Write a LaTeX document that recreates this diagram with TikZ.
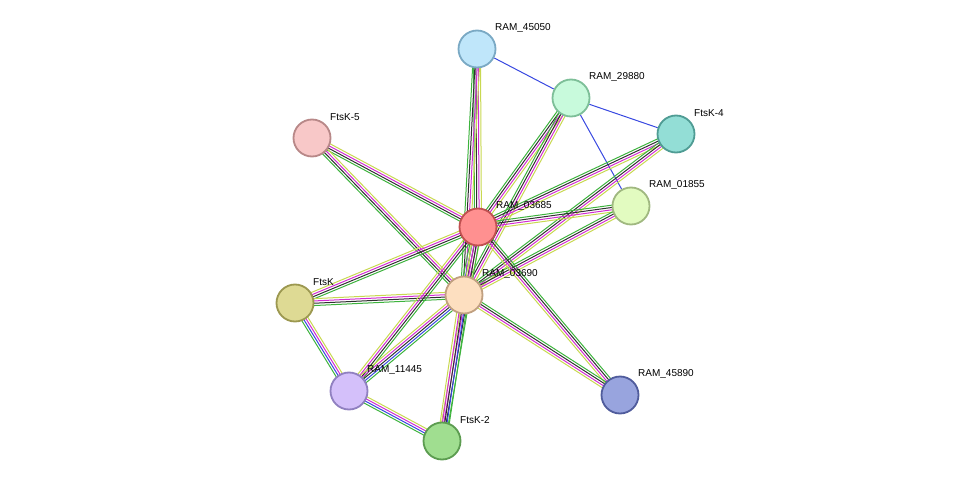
\documentclass[tikz,border=0pt]{standalone}
\usepackage{fontspec}
\setmainfont{Liberation Sans}
\usetikzlibrary{calc,backgrounds}
\definecolor{eg}{HTML}{3DB33D}
\definecolor{em}{HTML}{D22CD2}
\definecolor{ey}{HTML}{C8D850}
\definecolor{eb}{HTML}{3848E0}
\definecolor{ek}{HTML}{303030}
\tikzset{
 prot/.style={circle,minimum size=37pt,inner sep=0pt,line width=1.8pt},
 lab/.style={anchor=west,font=\fontsize{10}{12}\selectfont,inner sep=0pt},
}
\newcommand\medge[4]{%
 \foreach \c [count=\i] in {#4}{%
  \pgfmathsetmacro\off{(\i-(#3+1)/2)*2.3}%
  \draw[\c,line width=1pt] ($(#1)!\off pt!90:(#2)$) -- ($(#2)!\off pt!-90:(#1)$);
 }}
\begin{document}
\begin{tikzpicture}[x=1pt,y=-1pt]
\useasboundingbox (0,0) rectangle (975,487);
\newcommand\prot[5]{%
 \node[prot,fill=#4,draw=#5] (#1) at (#2,#3) {};
 \node[lab] (#1-l) at (#2+18,#3-21) {\detokenize{#1}};}
\prot{RAM_45050}{477}{49}{{rgb,255:red,191;green,230;blue,250}}{{rgb,255:red,122;green,169;blue,196}}
\prot{RAM_29880}{571}{98}{{rgb,255:red,200;green,250;blue,220}}{{rgb,255:red,125;green,191;blue,152}}
\prot{FtsK-4}{676}{134}{{rgb,255:red,147;green,222;blue,214}}{{rgb,255:red,79;green,156;blue,148}}
\prot{FtsK-5}{312}{138}{{rgb,255:red,248;green,200;blue,200}}{{rgb,255:red,184;green,136;blue,136}}
\prot{RAM_01855}{631}{206}{{rgb,255:red,226;green,251;blue,192}}{{rgb,255:red,160;green,184;blue,128}}
\prot{RAM_03685}{478}{227}{{rgb,255:red,255;green,144;blue,144}}{{rgb,255:red,192;green,80;blue,80}}
\prot{RAM_03690}{464}{295}{{rgb,255:red,253;green,223;blue,192}}{{rgb,255:red,192;green,160;blue,128}}
\prot{FtsK}{295}{303}{{rgb,255:red,222;green,218;blue,148}}{{rgb,255:red,156;green,152;blue,80}}
\prot{RAM_11445}{349}{391}{{rgb,255:red,212;green,192;blue,250}}{{rgb,255:red,144;green,128;blue,192}}
\prot{FtsK-2}{442}{441}{{rgb,255:red,160;green,222;blue,144}}{{rgb,255:red,92;green,156;blue,80}}
\prot{RAM_45890}{620}{395}{{rgb,255:red,152;green,164;blue,222}}{{rgb,255:red,80;green,92;blue,156}}
\begin{pgfonlayer}{background}
\draw[eb,line width=1pt] (RAM_45050) -- (RAM_29880);
\draw[eb,line width=1pt] (RAM_29880) -- (FtsK-4);
\draw[eb,line width=1pt] (RAM_29880) -- (RAM_01855);
\foreach \a in {RAM_45050,RAM_29880,FtsK-4,FtsK-5,RAM_01855,FtsK,RAM_45890}{
 \medge{\a}{RAM_03685}{4}{eg,ek,em,ey}
 \medge{\a}{RAM_03690}{4}{eg,ek,em,ey}}
\medge{RAM_03685}{RAM_03690}{5}{eg,eb,ek,em,ey}
\medge{RAM_11445}{RAM_03685}{4}{eg,ek,em,ey}
\medge{FtsK-2}{RAM_03685}{4}{eg,ek,em,ey}
\medge{RAM_11445}{RAM_03690}{5}{eg,eb,ek,em,ey}
\medge{FtsK-2}{RAM_03690}{5}{eg,eb,ek,em,ey}
\medge{FtsK}{RAM_11445}{4}{eg,eb,em,ey}
\medge{RAM_11445}{FtsK-2}{4}{eg,eb,em,ey}
\end{pgfonlayer}
\end{tikzpicture}
\end{document}
